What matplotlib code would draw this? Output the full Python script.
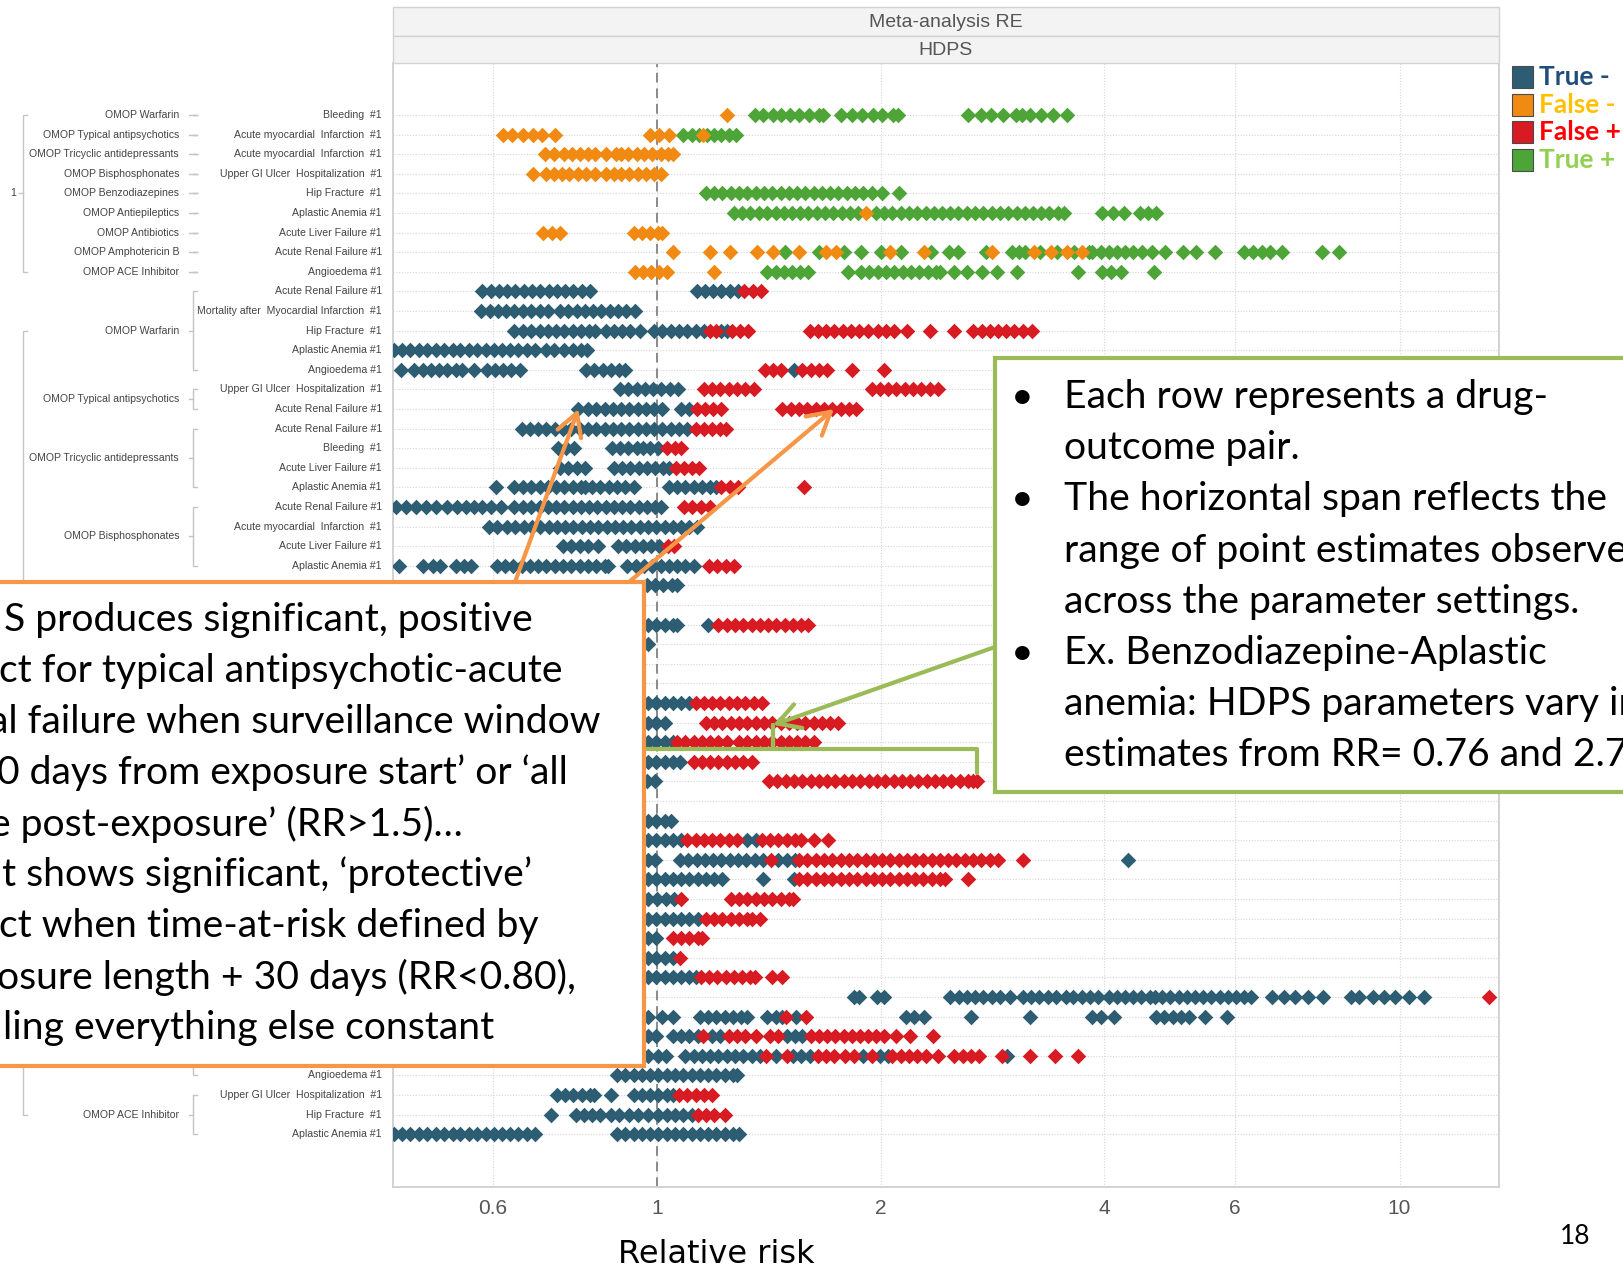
import matplotlib
matplotlib.use('Agg')
import matplotlib.pyplot as plt
from matplotlib.patches import Rectangle
from matplotlib.lines import Line2D
from matplotlib.ticker import FixedLocator, FixedFormatter, NullLocator
from matplotlib.transforms import blended_transform_factory

# ---- data -------------------------------------------------------------
# rows 1-9: positive controls (False - / True +), rows 10-53: negative controls (True - / False +)
OUTCOMES = [
    'Bleeding  #1', 'Acute myocardial  Infarction  #1', 'Acute myocardial  Infarction  #1',
    'Upper GI Ulcer  Hospitalization  #1', 'Hip Fracture  #1', 'Aplastic Anemia #1',
    'Acute Liver Failure #1', 'Acute Renal Failure #1', 'Angioedema #1',
    'Acute Renal Failure #1', 'Mortality after  Myocardial Infarction  #1', 'Hip Fracture  #1',
    'Aplastic Anemia #1', 'Angioedema #1', 'Upper GI Ulcer  Hospitalization  #1',
    'Acute Renal Failure #1', 'Acute Renal Failure #1', 'Bleeding  #1',
    'Acute Liver Failure #1', 'Aplastic Anemia #1', 'Acute Renal Failure #1',
    'Acute myocardial  Infarction  #1', 'Acute Liver Failure #1', 'Aplastic Anemia #1',
] + [''] * 25 + [
    'Angioedema #1', 'Upper GI Ulcer  Hospitalization  #1', 'Hip Fracture  #1', 'Aplastic Anemia #1',
]

DRUG_GROUPS = [
    ('OMOP Warfarin', 1, 1), ('OMOP Typical antipsychotics', 2, 2),
    ('OMOP Tricyclic antidepressants', 3, 3), ('OMOP Bisphosphonates', 4, 4),
    ('OMOP Benzodiazepines', 5, 5), ('OMOP Antiepileptics', 6, 6),
    ('OMOP Antibiotics', 7, 7), ('OMOP Amphotericin B', 8, 8), ('OMOP ACE Inhibitor', 9, 9),
    ('OMOP Warfarin', 10, 14), ('OMOP Typical antipsychotics', 15, 16),
    ('OMOP Tricyclic antidepressants', 17, 20), ('OMOP Bisphosphonates', 21, 24),
    ('', 25, 50), ('OMOP ACE Inhibitor', 51, 53),
]
TOP_GROUPS = [('1', 1, 9), ('', 10, 53)]

FALSE_NEG = [
    [1.24],
    [0.62, 0.638, 0.659, 0.68, 0.70, 0.728, 0.978, 1.006, 1.036, 1.152],
    [0.705, 0.725, 0.749, 0.768, 0.786, 0.807, 0.825, 0.852, 0.88, 0.894, 0.914, 0.938,
     0.959, 0.984, 1.01, 1.033, 1.049],
    [0.68, 0.707, 0.725, 0.744, 0.761, 0.781, 0.801, 0.825, 0.852, 0.874, 0.894, 0.917,
     0.941, 0.965, 0.99, 1.01],
    [],
    [1.908],
    [0.702, 0.721, 0.74, 0.929, 0.953, 0.978, 1.003, 1.016],
    [1.051, 1.178, 1.252, 1.361, 1.433, 1.553, 1.688, 1.743, 2.06, 2.289, 2.822, 3.215,
     3.39, 3.567, 3.733],
    [0.932, 0.956, 0.981, 1.006, 1.029, 1.193],
]
TRUE_POS = [
    [1.352, 1.39, 1.43, 1.47, 1.51, 1.55, 1.60, 1.65, 1.672, 1.77, 1.83, 1.89, 1.95, 2.01,
     2.08, 2.11, 2.62, 2.73, 2.82, 2.92, 3.04, 3.10, 3.18, 3.29, 3.41, 3.56],
    [1.084, 1.112, 1.137, 1.167, 1.193, 1.22, 1.248, 1.276],
    [],
    [],
    [1.163, 1.193, 1.224, 1.256, 1.289, 1.322, 1.357, 1.392, 1.428, 1.466, 1.504, 1.543,
     1.583, 1.624, 1.667, 1.71, 1.754, 1.80, 1.847, 1.895, 1.944, 2.01, 2.114],
    [1.268, 1.301, 1.335, 1.37, 1.406, 1.443, 1.48, 1.518, 1.558, 1.598, 1.64, 1.682, 1.726,
     1.771, 1.817, 1.864, 1.969, 2.021, 2.074, 2.128, 2.184, 2.241, 2.299, 2.359, 2.418,
     2.481, 2.54, 2.614, 2.682, 2.75, 2.822, 2.895, 2.971, 3.048, 3.127, 3.208, 3.292,
     3.376, 3.464, 3.53, 3.974, 4.105, 4.254, 4.468, 4.583, 4.697],
    [],
    [1.484, 1.651, 1.782, 1.883, 2.003, 2.128, 2.335, 2.473, 2.54, 2.771, 3.01, 3.068,
     3.127, 3.281, 3.453, 3.646, 3.818, 3.855, 3.961, 4.056, 4.162, 4.268, 4.378, 4.497,
     4.645, 4.834, 5.112, 5.313, 5.64, 6.174, 6.357, 6.524, 6.697, 6.94, 7.854, 8.281],
    [1.406, 1.443, 1.48, 1.518, 1.558, 1.598, 1.806, 1.883, 1.931, 1.981, 2.034, 2.087,
     2.141, 2.196, 2.253, 2.313, 2.373, 2.401, 2.513, 2.614, 2.74, 2.868, 3.048, 3.683,
     3.974, 4.092, 4.212, 4.668],
]

TRUE_NEG = [
    [0.581, 0.597, 0.612, 0.628, 0.644, 0.661, 0.678, 0.696, 0.714, 0.733, 0.751, 0.771,
     0.791, 0.812, 1.13, 1.159, 1.19, 1.22, 1.252, 1.285],
    [0.579, 0.595, 0.61, 0.626, 0.642, 0.659, 0.676, 0.694, 0.712, 0.74, 0.759, 0.779,
     0.799, 0.82, 0.841, 0.863, 0.885, 0.908, 0.932],
    [0.642, 0.659, 0.676, 0.694, 0.712, 0.73, 0.749, 0.769, 0.788, 0.809, 0.825, 0.852,
     0.874, 0.897, 0.92, 0.947, 0.99, 1.016, 1.043, 1.07, 1.098, 1.126, 1.156, 1.22, 1.24],
    [0.442, 0.453, 0.465, 0.478, 0.49, 0.503, 0.516, 0.53, 0.543, 0.558, 0.572, 0.587,
     0.602, 0.618, 0.634, 0.65, 0.667, 0.685, 0.707, 0.725, 0.749, 0.769, 0.788, 0.804],
    [0.452, 0.47, 0.484, 0.496, 0.508, 0.521, 0.535, 0.546, 0.566, 0.589, 0.604, 0.62,
     0.636, 0.653, 0.801, 0.822, 0.844, 0.866, 0.888, 0.905, 1.528],
    [0.891, 0.914, 0.938, 0.962, 0.987, 1.013, 1.039, 1.066],
    [0.781, 0.807, 0.828, 0.849, 0.871, 0.894, 0.917, 0.941, 0.965, 0.99, 1.016, 1.077, 1.105],
    [0.657, 0.674, 0.691, 0.709, 0.728, 0.746, 0.766, 0.786, 0.807, 0.828, 0.849, 0.871,
     0.894, 0.917, 0.941, 0.965, 0.99, 1.016, 1.043, 1.07, 1.098],
    [0.735, 0.754, 0.773, 0.868, 0.891, 0.914, 0.938, 0.956, 0.978, 1.003],
    [0.74, 0.759, 0.779, 0.799, 0.874, 0.897, 0.92, 0.944, 0.968, 0.994, 1.019, 1.036],
    [0.606, 0.642, 0.659, 0.676, 0.694, 0.712, 0.73, 0.749, 0.769, 0.788, 0.799, 0.817,
     0.838, 0.86, 0.882, 0.905, 0.929, 1.036, 1.063, 1.091, 1.119, 1.148, 1.178, 1.201],
    [0.444, 0.458, 0.473, 0.488, 0.504, 0.521, 0.538, 0.552, 0.566, 0.581, 0.597, 0.616,
     0.642, 0.659, 0.676, 0.694, 0.712, 0.73, 0.749, 0.769, 0.788, 0.809, 0.83, 0.852,
     0.874, 0.897, 0.92, 0.944, 0.968, 0.994, 1.013],
    [0.593, 0.608, 0.628, 0.644, 0.661, 0.678, 0.696, 0.714, 0.733, 0.751, 0.771, 0.791,
     0.812, 0.833, 0.855, 0.877, 0.9, 0.923, 0.947, 0.971, 0.997, 1.023, 1.049, 1.077,
     1.105, 1.13],
    [0.747, 0.766, 0.786, 0.807, 0.833, 0.885, 0.908, 0.932, 0.956, 0.981, 1.006],
    [0.449, 0.483, 0.499, 0.51, 0.535, 0.549, 0.561, 0.608, 0.624, 0.64, 0.657, 0.674,
     0.691, 0.709, 0.728, 0.746, 0.766, 0.786, 0.807, 0.828, 0.849, 0.857, 0.911, 0.935,
     0.959, 0.984, 1.01, 1.036, 1.063, 1.091, 1.119],
    [0.968, 0.994, 1.019, 1.046, 1.063],
    [],
    [0.971, 0.997, 1.023, 1.049, 1.063, 1.17],
    [0.971],
    [],
    [],
    [0.971, 0.997, 1.023, 1.049, 1.077, 1.105],
    [0.971, 0.997, 1.023],
    [0.971, 0.997, 1.023, 1.049],
    [0.971, 0.997, 1.023, 1.049, 1.073],
    [0.76, 0.968, 0.994],
    [],
    [0.971, 0.997, 1.023, 1.043],
    [0.971, 0.997, 1.023, 1.049, 1.077, 1.322, 1.357],
    [0.971, 0.994, 1.073, 1.101, 1.13, 1.159, 1.19, 1.22, 1.252, 1.285, 1.318, 1.352,
     1.388, 1.455, 1.494, 1.533, 4.311],
    [0.971, 0.997, 1.023, 1.049, 1.077, 1.105, 1.133, 1.163, 1.193, 1.224, 1.388, 1.528],
    [0.971, 1.0, 1.026, 1.053],
    [0.971, 0.997, 1.023, 1.049, 1.077, 1.105, 1.133],
    [0.971, 0.997],
    [0.971, 0.997, 1.023, 1.049],
    [0.971, 0.997, 1.023, 1.049, 1.077, 1.105, 1.126],
    [1.84, 1.87, 1.98, 2.02, 2.481, 2.546, 2.614, 2.682, 2.75, 2.822, 2.895, 2.991, 3.106,
     3.188, 3.272, 3.358, 3.443, 3.555, 3.636, 3.733, 3.829, 3.928, 4.056, 4.162, 4.268,
     4.378, 4.49, 4.606, 4.69, 4.788, 4.912, 5.038, 5.168, 5.302, 5.439, 5.579, 5.724,
     5.872, 6.023, 6.179, 6.299, 6.74, 6.98, 7.23, 7.54, 7.88, 8.6, 8.83, 9.22, 9.54,
     9.87, 10.3, 10.78],
    [0.971, 1.016, 1.05, 1.141, 1.17, 1.201, 1.232, 1.264, 1.297, 1.322, 1.406, 1.443,
     1.474, 1.538, 2.162, 2.218, 2.289, 2.646, 3.177, 3.855, 3.961, 4.118, 4.697, 4.823,
     4.952, 5.083, 5.204, 5.467, 5.849],
    [0.971, 0.997, 1.049, 1.077, 1.105, 1.133, 1.186, 1.216, 1.494, 1.533, 1.568],
    [0.971, 1.003, 1.026, 1.091, 1.119, 1.148, 1.178, 1.209, 1.24, 1.273, 1.306, 1.34,
     1.375, 1.447, 1.523, 1.563, 1.604, 1.895, 1.994, 2.047, 2.963],
    [0.882, 0.905, 0.929, 0.953, 0.978, 1.003, 1.029, 1.056, 1.084, 1.112, 1.141, 1.17,
     1.201, 1.232, 1.264, 1.28],
    [0.733, 0.751, 0.771, 0.791, 0.812, 0.822, 0.866, 0.929, 0.953, 0.978, 1.003, 1.029, 1.049],
    [0.718, 0.776, 0.796, 0.817, 0.838, 0.866, 0.888, 0.917, 0.941, 0.971, 1.003, 1.029,
     1.056, 1.084, 1.112],
    [0.442, 0.453, 0.465, 0.478, 0.49, 0.503, 0.516, 0.53, 0.543, 0.558, 0.572, 0.587,
     0.602, 0.618, 0.634, 0.65, 0.667, 0.685, 0.882, 0.905, 0.929, 0.953, 0.978, 1.003,
     1.029, 1.056, 1.084, 1.112, 1.141, 1.17, 1.201, 1.232, 1.264, 1.289],
]
FALSE_POS = [
    [1.309, 1.344, 1.379],
    [],
    [1.178, 1.201, 1.26, 1.293, 1.327, 1.604, 1.645, 1.688, 1.732, 1.777, 1.824, 1.871,
     1.92, 1.981, 2.034, 2.087, 2.168, 2.328, 2.513, 2.663, 2.74, 2.804, 2.877, 2.951,
     3.028, 3.106, 3.201],
    [],
    [1.397, 1.433, 1.47, 1.568, 1.609, 1.651, 1.694, 1.828, 2.021],
    [1.156, 1.186, 1.216, 1.248, 1.28, 1.314, 1.348, 1.944, 1.994, 2.047, 2.1, 2.155,
     2.212, 2.268, 2.328, 2.389],
    [1.13, 1.159, 1.19, 1.22, 1.474, 1.513, 1.553, 1.593, 1.635, 1.677, 1.721, 1.766,
     1.812, 1.852],
    [1.126, 1.156, 1.186, 1.216, 1.236],
    [1.029, 1.056, 1.077],
    [1.06, 1.087, 1.115, 1.137],
    [1.22, 1.252, 1.285, 1.578],
    [1.087, 1.115, 1.144, 1.178],
    [],
    [1.033, 1.053],
    [1.174, 1.205, 1.236, 1.268],
    [],
    [],
    [1.209, 1.24, 1.273, 1.306, 1.34, 1.375, 1.411, 1.447, 1.484, 1.523, 1.563, 1.598],
    [],
    [],
    [],
    [1.126, 1.156, 1.186, 1.216, 1.248, 1.28, 1.314, 1.348, 1.383],
    [1.163, 1.193, 1.224, 1.256, 1.289, 1.322, 1.357, 1.392, 1.428, 1.466, 1.504, 1.543,
     1.583, 1.624, 1.667, 1.71, 1.754],
    [1.063, 1.091, 1.119, 1.148, 1.178, 1.209, 1.24, 1.289, 1.322, 1.357, 1.392, 1.428,
     1.466, 1.504, 1.543, 1.583, 1.624],
    [1.119, 1.148, 1.178, 1.209, 1.24, 1.273, 1.306, 1.34],
    [1.414, 1.451, 1.489, 1.528, 1.568, 1.609, 1.651, 1.694, 1.738, 1.783, 1.83, 1.877,
     1.926, 1.977, 2.028, 2.081, 2.135, 2.19, 2.247, 2.306, 2.366, 2.428, 2.491, 2.556,
     2.623, 2.66, 2.70],
    [],
    [],
    [1.098, 1.126, 1.156, 1.186, 1.216, 1.248, 1.28, 1.383, 1.419, 1.455, 1.494, 1.533,
     1.563, 1.624, 1.699],
    [1.424, 1.553, 1.593, 1.635, 1.677, 1.721, 1.766, 1.812, 1.859, 1.908, 1.957, 2.009,
     2.06, 2.114, 2.168, 2.225, 2.283, 2.342, 2.402, 2.464, 2.528, 2.594, 2.663, 2.733,
     2.804, 2.877, 3.106],
    [1.553, 1.593, 1.635, 1.677, 1.721, 1.766, 1.812, 1.859, 1.908, 1.957, 2.009, 2.06,
     2.114, 2.168, 2.225, 2.283, 2.342, 2.402, 2.44, 2.621],
    [1.077, 1.256, 1.289, 1.322, 1.357, 1.392, 1.428, 1.466, 1.504, 1.523],
    [1.163, 1.193, 1.224, 1.256, 1.289, 1.322, 1.34, 1.375],
    [1.049, 1.077, 1.105, 1.133, 1.148],
    [1.073],
    [1.144, 1.174, 1.205, 1.236, 1.268, 1.301, 1.335, 1.352, 1.428, 1.474],
    [13.2],
    [1.489, 1.588],
    [1.152, 1.248, 1.28, 1.314, 1.357, 1.419, 1.455, 1.609, 1.651, 1.694, 1.738, 1.783,
     1.83, 1.877, 1.92, 1.969, 2.021, 2.1, 2.19, 2.355],
    [1.401, 1.494, 1.645, 1.688, 1.732, 1.789, 1.841, 1.944, 2.074, 2.128, 2.184, 2.241,
     2.299, 2.389, 2.513, 2.579, 2.646, 2.717, 2.917, 3.177, 3.431, 3.683],
    [],
    [1.07, 1.098, 1.126, 1.156, 1.186],
    [1.133, 1.163, 1.193, 1.232],
    [],
]

X_TICKS = [0.6, 1, 2, 4, 6, 10]
X_TICK_LABELS = ['0.6', '1', '2', '4', '6', '10']
LEGEND_LABELS = ['True -', 'False -', 'False +', 'True +']
HIGHLIGHT_ROW = 35  # benzodiazepine - aplastic anemia

# ---- style / layout ---------------------------------------------------
C_TRUE_NEG = '#2C5D72'
C_FALSE_NEG = '#F18A12'
C_FALSE_POS = '#D81B22'
C_TRUE_POS = '#4EA537'
LEGEND_COLORS = [C_TRUE_NEG, C_FALSE_NEG, C_FALSE_POS, C_TRUE_POS]
LEGEND_TEXT_COLORS = ['#1F4E79', '#FFC000', '#FF0000', '#92D050']
ORANGE = '#F79646'
GREEN = '#9BBB59'
LABEL_C = '#444444'
BRACKET_C = '#C4C4C4'

W, H = 1623, 1269
AX_L, AX_R, AX_T, AX_B = 393, 1499, 63, 1187
ROW1_PX, ROW_PITCH = 115, 19.6
ONE_PX, DECADE_PX = 657.3, 742.2
BOX_FS = 28.2

plt.rcParams['font.family'] = ['Liberation Sans', 'DejaVu Sans']
BOX_FONT = ['Lato', 'DejaVu Sans']

fig = plt.figure(figsize=(W / 100, H / 100), dpi=100)
fig.patch.set_facecolor('white')
ax = fig.add_axes([AX_L / W, 1 - AX_B / H, (AX_R - AX_L) / W, (AX_B - AX_T) / H])
ax.set_zorder(1)

ax.set_xscale('log')
ax.set_xlim(10 ** ((AX_L - ONE_PX) / DECADE_PX), 10 ** ((AX_R - ONE_PX) / DECADE_PX))
ax.set_ylim(53 + (AX_B - (ROW1_PX + 52 * ROW_PITCH)) / ROW_PITCH,
            1 - (ROW1_PX - AX_T) / ROW_PITCH)

# diamond marker
diamond = [(0, 0.5), (0.5, 0), (0, -0.5), (-0.5, 0), (0, 0.5)]


def draw_series(series, first_row, color, z):
    xs, ys = [], []
    for i, vals in enumerate(series):
        xs += vals
        ys += [first_row + i] * len(vals)
    ax.scatter(xs, ys, marker=diamond, s=11.2 ** 2, color=color, linewidths=0, zorder=z)


draw_series(TRUE_POS, 1, C_TRUE_POS, 3)
draw_series(FALSE_NEG, 1, C_FALSE_NEG, 4)
draw_series(TRUE_NEG, 10, C_TRUE_NEG, 3)
draw_series(FALSE_POS, 10, C_FALSE_POS, 4)

# axes, grid
ax.xaxis.set_major_locator(FixedLocator(X_TICKS))
ax.xaxis.set_major_formatter(FixedFormatter(X_TICK_LABELS))
ax.xaxis.set_minor_locator(NullLocator())
ax.set_yticks(range(1, len(OUTCOMES) + 1))
ax.tick_params(axis='y', length=0, labelleft=False)
ax.tick_params(axis='x', length=0, pad=9, labelsize=15, labelcolor='#555555')
ax.grid(True, axis='both', color='#D6D6D6', lw=0.8, linestyle=(0, (1, 1.5)), zorder=0)
ax.set_axisbelow(True)
ax.axvline(1, color='#8A8A8A', lw=1.4, dashes=(5, 3), zorder=2)
for side in ['left', 'right', 'bottom']:
    ax.spines[side].set_color('#CFCFCF')
    ax.spines[side].set_linewidth(1.3)
ax.spines['top'].set_visible(False)

# hierarchical row labels on the left
trans = blended_transform_factory(fig.transFigure, ax.transData)


def bracket(px, y0, y1, tick_in=4, tick_out=4):
    ax.add_artist(Line2D([(px + tick_in) / W, px / W, px / W, (px + tick_in) / W],
                         [y0, y0, y1, y1], transform=trans, color=BRACKET_C, lw=1,
                         clip_on=False))
    ym = (y0 + y1) / 2
    ax.add_artist(Line2D([(px - tick_out) / W, px / W], [ym, ym], transform=trans,
                         color=BRACKET_C, lw=1, clip_on=False))


for i, name in enumerate(OUTCOMES):
    if name:
        ax.text(382 / W, i + 1, name, transform=trans, ha='right', va='center',
                fontsize=7.6, color=LABEL_C, clip_on=False)

for name, r0, r1 in DRUG_GROUPS:
    bracket(192.7, r0, r1)
    if name:
        ax.text(179 / W, (r0 + r1) / 2, name, transform=trans, ha='right', va='center',
                fontsize=7.6, color=LABEL_C, clip_on=False)

for name, lo, hi in TOP_GROUPS:
    centers = [(r0 + r1) / 2 for _, r0, r1 in DRUG_GROUPS if lo <= r0 <= hi]
    bracket(22.7, min(centers), max(centers))
    if name:
        ax.text(13.5 / W, (min(centers) + max(centers)) / 2, name, transform=trans,
                ha='center', va='center', fontsize=7.6, color=LABEL_C, clip_on=False)

# ---- overlay in figure pixels: header, legend, callouts -------------
ov = fig.add_axes([0, 0, 1, 1])
ov.set_xlim(0, W)
ov.set_ylim(H, 0)
ov.axis('off')
ov.set_zorder(5)

for (y0, y1), title in zip([(7, 36), (36, AX_T)], ['Meta-analysis RE', 'HDPS']):
    ov.add_patch(Rectangle((AX_L, y0), AX_R - AX_L, y1 - y0, facecolor='#F3F3F3',
                           edgecolor='#D2D2D2', lw=1))
    ov.text((AX_L + AX_R) / 2, (y0 + y1) / 2 + 1, title, ha='center', va='center',
            fontsize=14, color='#555555')

ov.text(716, 1263, 'Relative risk', ha='center', va='baseline', fontsize=23,
        family='DejaVu Sans', color='black')
ov.text(1575, 1237, '18', ha='center', va='center', fontsize=19, family=BOX_FONT,
        color='black')

for i, (lab, c, tc) in enumerate(zip(LEGEND_LABELS, LEGEND_COLORS, LEGEND_TEXT_COLORS)):
    yc = 77 + i * 27.7
    ov.add_patch(Rectangle((1512, yc - 11), 21, 22, facecolor=c, edgecolor='#4A4A4A', lw=0.8))
    ov.text(1539, yc, lab, ha='left', va='center', fontsize=19, fontweight='bold',
            family=BOX_FONT, color=tc)

# orange callout (left)
ORANGE_LINES = [
    (4, 'S produces significant, positive'),
    (-1, 'ct for typical antipsychotic-acute'),
    (-11, 'al failure when surveillance window'),
    (-3, '0 days from exposure start\u2019 or \u2018all'),
    (-10, 'e post-exposure\u2019 (RR>1.5)\u2026'),
    (2, 't shows significant, \u2018protective\u2019'),
    (-1, 'ct when time-at-risk defined by'),
    (-3, 'osure length + 30 days (RR<0.80),'),
    (3, 'ling everything else constant'),
]
ov.add_patch(Rectangle((-20, 582), 664, 484, facecolor='white', edgecolor=ORANGE, lw=3))
for i, (x0, line) in enumerate(ORANGE_LINES):
    ov.text(x0, 620 + i * 51, line, ha='left', va='center', fontsize=BOX_FS,
            family=BOX_FONT, color='black')

# green callout (right)
GREEN_LINES = [
    (True, 'Each row represents a drug-'),
    (False, 'outcome pair.'),
    (True, 'The horizontal span reflects the'),
    (False, 'range of point estimates observed'),
    (False, 'across the parameter settings.'),
    (True, 'Ex. Benzodiazepine-Aplastic'),
    (False, 'anemia: HDPS parameters vary in'),
    (False, 'estimates from RR= 0.76 and 2.7'),
]
ov.add_patch(Rectangle((995, 358), 700, 434, facecolor='white', edgecolor=GREEN, lw=3))
for i, (bullet, line) in enumerate(GREEN_LINES):
    yc = 397 + i * 51.2
    if bullet:
        ov.text(1022, yc, '\u2022', ha='center', va='center', fontsize=BOX_FS,
                family=BOX_FONT, color='black')
    ov.text(1064, yc, line, ha='left', va='center', fontsize=BOX_FS,
            family=BOX_FONT, color='black')

# arrows from the orange box to typical antipsychotic - acute renal failure
arrow_kw = dict(arrowstyle='->,head_length=0.8,head_width=0.45', lw=3, shrinkA=0,
                shrinkB=0, mutation_scale=20)
for start, target in [((515, 582), (0.783, 16)), ((629, 582), (1.73, 16))]:
    ax.annotate('', xy=target, xycoords='data', xytext=start, textcoords=ov.transData,
                arrowprops=dict(color=ORANGE, **arrow_kw), zorder=10)

# brace over the span of the highlighted row, arrow from the green box
hl = TRUE_NEG[HIGHLIGHT_ROW - 10] + FALSE_POS[HIGHLIGHT_ROW - 10]
lo, hi = min(hl), max(hl)
mid = (lo * hi) ** 0.5
yb, ytip, yspike = HIGHLIGHT_ROW - 1.63, HIGHLIGHT_ROW - 0.43, HIGHLIGHT_ROW - 2.88
ax.plot([lo, lo, mid, mid, mid, hi, hi], [ytip, yb, yb, yspike, yb, yb, ytip],
        color=GREEN, lw=3, solid_joinstyle='round', solid_capstyle='round', zorder=9)
ax.annotate('', xy=(mid, yspike), xycoords='data', xytext=(995, 647),
            textcoords=ov.transData, arrowprops=dict(color=GREEN, **arrow_kw), zorder=10)

fig.savefig('out.png', dpi=100)
